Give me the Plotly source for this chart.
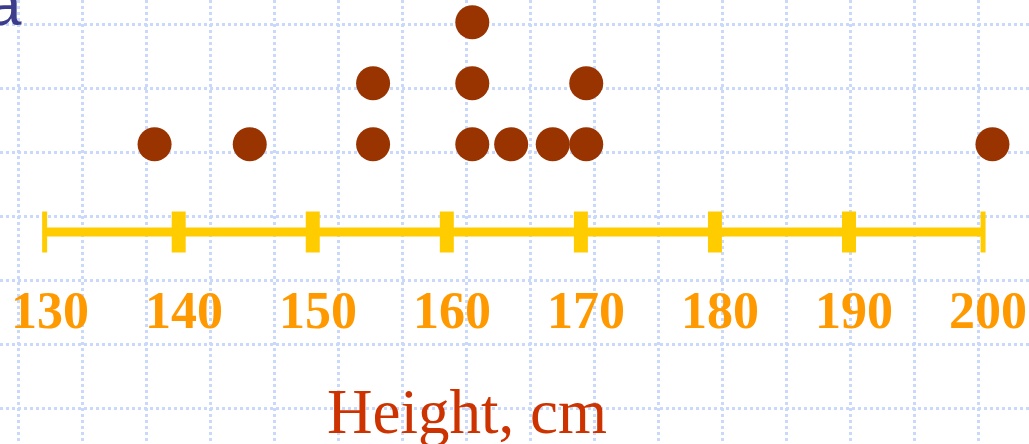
import plotly.graph_objects as go

# ---- data ----
heights = [138.2, 145.3, 154.5, 154.5, 161.9, 161.9, 161.9, 164.8, 167.9, 170.4, 170.4, 200.7]
tick_values = [130, 140, 150, 160, 170, 180, 190, 200]
tick_labels = ["130", "140", "150", "160", "170", "180", "190", "200"]
axis_title = "Height, cm"

# stack level of each dot (1 = first dot at that value)
levels = []
seen = {}
for h in heights:
    seen[h] = seen.get(h, 0) + 1
    levels.append(seen[h])

# ---- layout scale (pixels) ----
W, H = 1029, 444
PX_X = 13.406          # pixels per cm
X_LEFT = 126.67        # value at left edge
PX_Y = 61.0            # pixels per stack level
Y1_PX = 144.3          # pixel row of level 1
def lvl(px):
    return 1 - (px - Y1_PX) / PX_Y

x_range = [X_LEFT, X_LEFT + W / PX_X]
y_range = [lvl(H), lvl(0)]
axis_level = lvl(232)
label_level = lvl(310)

grid_col = "#CAD8FA"
yellow = "#FFCC00"

fig = go.Figure()

# axis line
fig.add_trace(go.Scatter(
    x=[tick_values[0], tick_values[-1]], y=[axis_level, axis_level],
    mode="lines", line=dict(color=yellow, width=9),
    hoverinfo="skip", showlegend=False))

# tick marks (line-ns length = 1.4 * size)
tick_w = [5 if i in (0, len(tick_values) - 1) else 14 for i in range(len(tick_values))]
fig.add_trace(go.Scatter(
    x=tick_values, y=[axis_level] * len(tick_values),
    mode="markers",
    marker=dict(symbol="line-ns", size=41 / 1.4, color=yellow,
                line=dict(color=yellow, width=tick_w)),
    hoverinfo="skip", showlegend=False))

# dots
fig.add_trace(go.Scatter(
    x=heights, y=levels, mode="markers",
    marker=dict(size=34, color="#993300", line=dict(width=0)),
    showlegend=False))

annotations = []
for v, t in zip(tick_values, tick_labels):
    annotations.append(dict(
        x=v, y=label_level, xref="x", yref="y", text=t, showarrow=False,
        xanchor="center", yanchor="middle", xshift=5,
        font=dict(family="Liberation Serif", size=52, color="#FF9900", weight="bold")))

annotations.append(dict(
    x=467 / W, y=1 - 412 / H, xref="paper", yref="paper", text=axis_title,
    showarrow=False, xanchor="center", yanchor="middle",
    font=dict(family="Liberation Serif", size=63, color="#CC3300")))

# clipped title letter at top-left
annotations.append(dict(
    x=24 / W, y=1 - 40 / H, xref="paper", yref="paper", text="a",
    showarrow=False, xanchor="right", yanchor="bottom",
    font=dict(family="Liberation Sans", size=62, color="#3C3C8C")))

fig.update_layout(
    width=W, height=H,
    margin=dict(l=0, r=0, t=0, b=0),
    paper_bgcolor="white", plot_bgcolor="white",
    annotations=annotations,
    xaxis=dict(range=x_range, showticklabels=False, zeroline=False, ticks="",
               showgrid=True, gridcolor=grid_col, gridwidth=3, griddash="dot",
               tick0=X_LEFT + 18 / PX_X, dtick=64 / PX_X, showline=False),
    yaxis=dict(range=y_range, showticklabels=False, zeroline=False, ticks="",
               showgrid=True, gridcolor=grid_col, gridwidth=3, griddash="dot",
               tick0=lvl(24), dtick=64 / PX_Y, showline=False),
)

fig.write_html("out.html", config={"displayModeBar": False},
               post_script="document.body.style.margin='0';")
